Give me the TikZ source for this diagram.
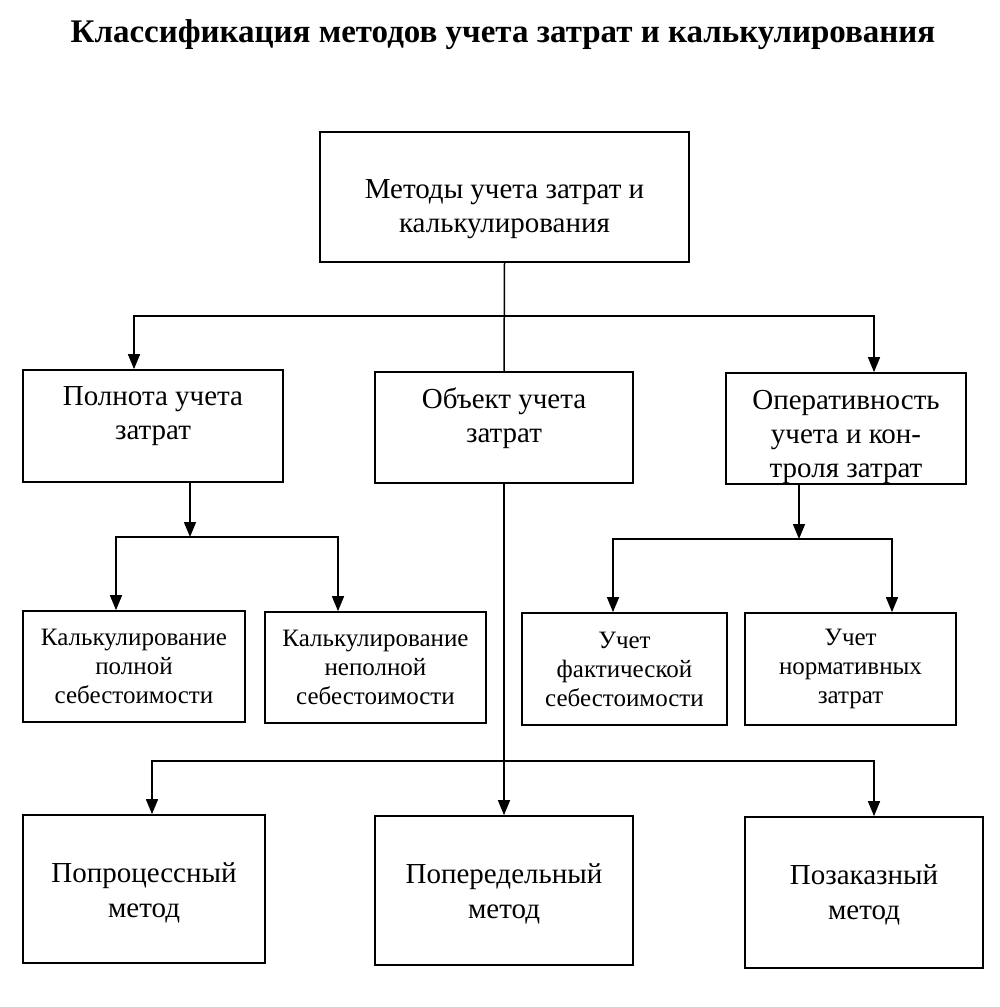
\documentclass[tikz,border=0pt]{standalone}
\usepackage{fontspec}
\setmainfont{Liberation Serif}
\usetikzlibrary{arrows.meta,positioning}

\tikzset{
  box/.style={draw,line width=1.7pt,inner sep=0pt,align=center},
  txt/.style={inner sep=0pt,align=center},
  arr/.style={-{Triangle[length=15pt,width=12pt]}},
  big/.style={font=\fontsize{29}{34}\selectfont},
  low/.style={font=\fontsize{29}{35}\selectfont},
  small/.style={font=\fontsize{25}{29}\selectfont},
}

\begin{document}
\begin{tikzpicture}[x=1pt,y=-1pt,line width=1.5pt]
\useasboundingbox (0,0) rectangle (1000,1007);
\node[font=\bfseries\fontsize{33}{36}\selectfont] (title) at (503,35) {Классификация методов учета затрат и калькулирования};
\node[box,minimum width=369pt,minimum height=130pt] (top) at (504.5,197) {};
\node[txt,big,below=48pt of top.north] (top-t) {Методы учета затрат и\\калькулирования};
\node[box,minimum width=260pt,minimum height=112pt] (pol) at (153,426) {};
\node[txt,big,below=17pt of pol.north] (pol-t) {Полнота учета\\затрат};
\node[box,minimum width=258pt,minimum height=111pt] (obj) at (504,427.5) {};
\node[txt,big,below=16pt of obj.north] (obj-t) {Объект учета\\затрат};
\node[box,minimum width=240pt,minimum height=111pt] (oper) at (846,428.5) {};
\node[txt,big,below=17pt of oper.north] (oper-t) {Оперативность\\учета и кон-\\троля затрат};
\node[box,small,minimum width=222pt,minimum height=111pt] (kpol) at (134,666.5) {Калькулирование\\полной\\себестоимости};
\node[box,small,minimum width=221pt,minimum height=111pt] (knep) at (375.5,667.5) {Калькулирование\\неполной\\себестоимости};
\node[box,small,minimum width=205pt,minimum height=112pt] (fakt) at (624.5,669) {Учет\\фактической\\себестоимости};
\node[box,small,minimum width=211pt,minimum height=112pt] (norm) at (850.5,669) {Учет\\нормативных\\затрат};
\node[box,minimum width=242pt,minimum height=148pt] (proc) at (144,889) {};
\node[txt,low,below=48pt of proc.north] (proc-t) {Попроцессный\\метод};
\node[box,minimum width=258pt,minimum height=149pt] (pered) at (504,890.5) {};
\node[txt,low,below=48pt of pered.north] (pered-t) {Попередельный\\метод};
\node[box,minimum width=238pt,minimum height=151pt] (zak) at (864,892.5) {};
\node[txt,low,below=48pt of zak.north] (zak-t) {Позаказный\\метод};
\coordinate (s1) at (504,316);
\coordinate (s1l) at (134,316);
\coordinate (s1r) at (874,316);
\coordinate (s2) at (190,537);
\coordinate (s2l) at (116,537);
\coordinate (s2r) at (338,537);
\coordinate (s3) at (799,539);
\coordinate (s3l) at (613,539);
\coordinate (s3r) at (892,539);
\coordinate (s4) at (504,761);
\coordinate (s4l) at (152,761);
\coordinate (s4r) at (874,761);
\draw (top.south) -- (obj.north);
\draw[arr] (s1) -| (s1l |- pol.north);
\draw[arr] (s1) -| (s1r |- oper.north);
\draw[arr] (pol.south -| s2) -- (s2);
\draw[arr] (s2) -| (s2l |- kpol.north);
\draw[arr] (s2) -| (s2r |- knep.north);
\draw[arr] (oper.south -| s3) -- (s3);
\draw[arr] (s3) -| (s3l |- fakt.north);
\draw[arr] (s3) -| (s3r |- norm.north);
\draw[arr] (obj.south) -- (pered.north);
\draw[arr] (s4) -| (s4l |- proc.north);
\draw[arr] (s4) -| (s4r |- zak.north);
\end{tikzpicture}
\end{document}
